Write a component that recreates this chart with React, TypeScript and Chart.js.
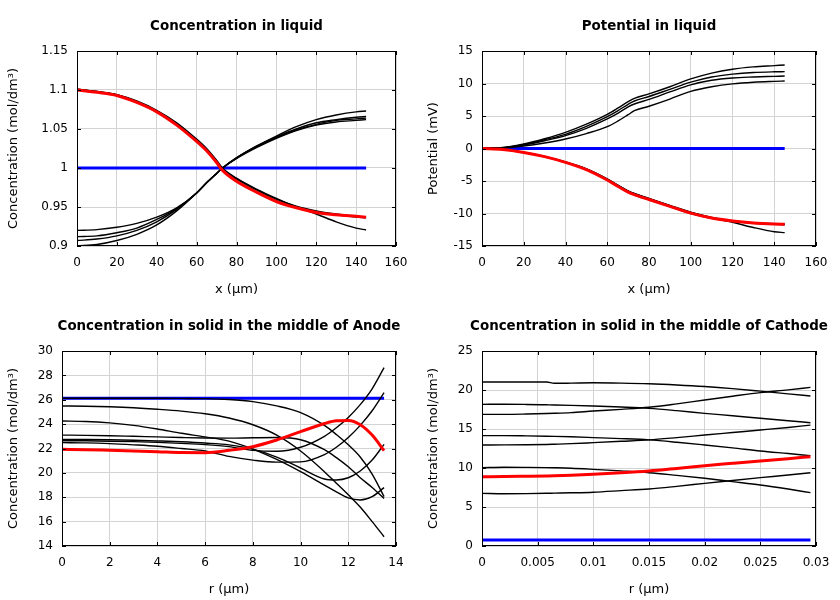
import React, { useEffect, useRef } from 'react';
import { Chart, registerables } from 'chart.js';

Chart.register(...registerables);
Chart.defaults.font.family = "'DejaVu Sans', sans-serif";
Chart.defaults.color = '#000';

// ---------- Panel 1: Concentration in liquid ----------
const liquidX = [0, 10, 20, 30, 40, 50, 60, 65, 70, 73, 80, 90, 100, 110, 120, 130, 140, 145];
const liqConcInitial = [1, 1, 1, 1, 1, 1, 1, 1, 1, 1, 1, 1, 1, 1, 1, 1, 1, 1];
const liqConcFinal = [1.1, 1.097, 1.093, 1.084, 1.072, 1.055, 1.034, 1.022, 1.007, 0.997, 0.983, 0.969, 0.957, 0.949, 0.943, 0.94, 0.938, 0.937];
const liqConcDown1 = [1.101, 1.098, 1.094, 1.086, 1.074, 1.058, 1.037, 1.025, 1.01, 1.0, 0.987, 0.973, 0.961, 0.95, 0.941, 0.931, 0.923, 0.9205];
const liqConcDown2 = [1.101, 1.098, 1.094, 1.085, 1.073, 1.057, 1.036, 1.024, 1.009, 0.999, 0.986, 0.972, 0.96, 0.951, 0.945, 0.941, 0.938, 0.937];
const liqConcDown3 = [1.1, 1.097, 1.093, 1.084, 1.072, 1.056, 1.035, 1.023, 1.008, 0.998, 0.984, 0.97, 0.958, 0.95, 0.944, 0.94, 0.937, 0.936];
const liqConcUp1 = [0.9, 0.902, 0.907, 0.915, 0.927, 0.945, 0.968, 0.981, 0.993, 1.0, 1.013, 1.028, 1.041, 1.053, 1.062, 1.068, 1.072, 1.073];
const liqConcUp2 = [0.907, 0.909, 0.913, 0.92, 0.931, 0.947, 0.968, 0.981, 0.993, 1.0, 1.013, 1.028, 1.04, 1.05, 1.058, 1.062, 1.065, 1.066];
const liqConcUp3 = [0.912, 0.913, 0.917, 0.923, 0.934, 0.948, 0.968, 0.981, 0.993, 1.0, 1.013, 1.027, 1.039, 1.049, 1.056, 1.061, 1.063, 1.064];
const liqConcUp4 = [0.92, 0.921, 0.924, 0.929, 0.937, 0.949, 0.968, 0.981, 0.993, 1.0, 1.012, 1.026, 1.038, 1.048, 1.055, 1.059, 1.061, 1.062];
const liquidXTicks = [0, 20, 40, 60, 80, 100, 120, 140, 160];
const liquidXTickLabels = ['0', '20', '40', '60', '80', '100', '120', '140', '160'];
const liqConcYTicks = [0.9, 0.95, 1, 1.05, 1.1, 1.15];
const liqConcYTickLabels = ['0.9', '0.95', '1', '1.05', '1.1', '1.15'];

// ---------- Panel 2: Potential in liquid ----------
const potInitial = [0, 0, 0, 0, 0, 0, 0, 0, 0, 0, 0, 0, 0, 0, 0, 0, 0, 0];
const potFinal = [0, -0.15, -0.6, -1.25, -2.13, -3.25, -4.85, -5.8, -6.7, -7.1, -7.85, -8.9, -9.95, -10.7, -11.15, -11.45, -11.62, -11.67];
const potUp1 = [0, 0.15, 0.69, 1.5, 2.49, 3.75, 5.26, 6.2, 7.2, 7.72, 8.4, 9.5, 10.7, 11.6, 12.2, 12.55, 12.75, 12.85];
const potUp2 = [0, 0.12, 0.59, 1.35, 2.18, 3.4, 4.9, 5.8, 6.8, 7.31, 8.0, 9.1, 10.2, 11.0, 11.45, 11.7, 11.8, 11.82];
const potUp3 = [0, 0.1, 0.54, 1.2, 1.97, 3.1, 4.54, 5.4, 6.4, 6.85, 7.55, 8.7, 9.8, 10.5, 10.85, 11.0, 11.1, 11.15];
const potUp4 = [0, 0.08, 0.38, 0.85, 1.46, 2.3, 3.35, 4.2, 5.2, 5.82, 6.5, 7.6, 8.8, 9.5, 9.95, 10.2, 10.33, 10.38];
const potDown1 = [0, -0.15, -0.6, -1.25, -2.1, -3.15, -4.7, -5.65, -6.55, -6.95, -7.7, -8.8, -9.85, -10.65, -11.35, -12.15, -12.8, -12.95];
const potDown2 = [0, -0.14, -0.58, -1.22, -2.07, -3.12, -4.68, -5.62, -6.52, -6.92, -7.68, -8.75, -9.8, -10.6, -11.1, -11.42, -11.58, -11.62];
const potDown3 = [0, -0.16, -0.62, -1.28, -2.16, -3.25, -4.85, -5.82, -6.72, -7.15, -7.9, -8.95, -10.0, -10.75, -11.2, -11.5, -11.68, -11.72];
const potYTicks = [-15, -10, -5, 0, 5, 10, 15];
const potYTickLabels = ['-15', '-10', '-5', '0', '5', '10', '15'];

// ---------- Panel 3: Concentration in solid, middle of anode ----------
const anodeR = [0, 1, 2, 3, 4, 5, 6, 7, 8, 9, 10, 11, 11.5, 12, 12.5, 13, 13.5];
const anodeInitial = [26.12, 26.12, 26.12, 26.12, 26.12, 26.12, 26.12, 26.12, 26.12, 26.12, 26.12, 26.12, 26.12, 26.12, 26.12, 26.12, 26.12];
const anodeFinal = [21.93, 21.9, 21.85, 21.8, 21.74, 21.67, 21.66, 21.85, 22.15, 22.7, 23.38, 24.05, 24.28, 24.3, 23.95, 23.1, 21.82];
const anodeA = [26.12, 26.12, 26.12, 26.12, 26.12, 26.11, 26.09, 26.02, 25.85, 25.5, 24.95, 23.9, 23.15, 22.3, 21.3, 19.9, 18.05];
const anodeB = [25.49, 25.47, 25.42, 25.34, 25.22, 25.07, 24.85, 24.5, 23.95, 23.1, 21.8, 20.1, 19.15, 18.2, 17.2, 16.0, 14.76];
const anodeC = [24.26, 24.22, 24.1, 23.9, 23.6, 23.25, 22.95, 22.6, 21.95, 21.1, 20.1, 19.0, 18.45, 17.95, 17.78, 18.05, 18.79];
const anodeD = [23.1, 23.08, 23.05, 23.0, 22.95, 22.9, 22.86, 22.85, 22.88, 22.9, 22.72, 21.9, 21.25, 20.5, 19.6, 18.8, 17.9];
const anodeE = [22.75, 22.74, 22.72, 22.68, 22.62, 22.55, 22.45, 22.3, 21.95, 21.3, 20.4, 19.5, 19.42, 19.6, 20.15, 21.05, 22.34];
const anodeF = [22.64, 22.63, 22.6, 22.56, 22.5, 22.42, 22.32, 22.15, 21.85, 21.78, 22.1, 23.0, 23.7, 24.55, 25.6, 26.9, 28.63];
const anodeG = [22.48, 22.46, 22.4, 22.3, 22.18, 22.0, 21.8, 21.35, 21.05, 20.88, 20.9, 21.5, 22.1, 22.9, 23.9, 25.1, 26.58];
const anodeXTicks = [0, 2, 4, 6, 8, 10, 12, 14];
const anodeXTickLabels = ['0', '2', '4', '6', '8', '10', '12', '14'];
const anodeYTicks = [14, 16, 18, 20, 22, 24, 26, 28, 30];
const anodeYTickLabels = ['14', '16', '18', '20', '22', '24', '26', '28', '30'];

// ---------- Panel 4: Concentration in solid, middle of cathode ----------
const cathodeR = [0, 0.002, 0.004, 0.0058, 0.0065, 0.008, 0.01, 0.0125, 0.015, 0.0175, 0.02, 0.0225, 0.025, 0.0275, 0.0295];
const cathodeInitial = [0.77, 0.77, 0.77, 0.77, 0.77, 0.77, 0.77, 0.77, 0.77, 0.77, 0.77, 0.77, 0.77, 0.77, 0.77];
const cathodeFinal = [8.89, 8.9, 8.94, 8.98, 9.0, 9.07, 9.19, 9.38, 9.62, 9.95, 10.3, 10.6, 10.9, 11.2, 11.45];
const cathode1 = [21.03, 21.03, 21.03, 21.02, 20.86, 20.88, 20.92, 20.88, 20.8, 20.65, 20.45, 20.18, 19.85, 19.5, 19.23];
const cathode2 = [18.16, 18.18, 18.15, 18.1, 18.08, 18.03, 17.95, 17.82, 17.65, 17.35, 17.0, 16.7, 16.37, 16.05, 15.81];
const cathode3 = [16.88, 16.88, 16.92, 16.98, 17.01, 17.1, 17.3, 17.52, 17.78, 18.22, 18.72, 19.2, 19.66, 20.02, 20.34];
const cathode4 = [14.15, 14.15, 14.12, 14.08, 14.06, 14.0, 13.9, 13.77, 13.6, 13.3, 12.95, 12.58, 12.18, 11.85, 11.58];
const cathode5 = [12.95, 12.96, 12.98, 13.02, 13.05, 13.12, 13.25, 13.42, 13.6, 13.9, 14.23, 14.55, 14.87, 15.2, 15.5];
const cathode6 = [10.04, 10.1, 10.08, 10.05, 10.03, 9.97, 9.83, 9.63, 9.4, 9.05, 8.68, 8.25, 7.82, 7.3, 6.84];
const cathode7 = [6.75, 6.7, 6.72, 6.76, 6.78, 6.82, 6.9, 7.1, 7.31, 7.65, 8.03, 8.4, 8.76, 9.1, 9.4];
const cathodeXTicks = [0, 0.005, 0.01, 0.015, 0.02, 0.025, 0.03];
const cathodeXTickLabels = ['0', '0.005', '0.01', '0.015', '0.02', '0.025', '0.03'];
const cathodeYTicks = [0, 5, 10, 15, 20, 25];
const cathodeYTickLabels = ['0', '5', '10', '15', '20', '25'];

const BLACK = '#000000';
const RED = '#ff0000';
const BLUE = '#0000ff';
const FONT = "'DejaVu Sans', sans-serif";

type Line = { values: number[]; kind: 'black' | 'red' | 'blue' };

type PanelProps = {
  left: number;
  top: number;
  title: string;
  xTitle: string;
  yTitle: string;
  xs: number[];
  lines: Line[];
  xMin: number;
  xMax: number;
  yMin: number;
  yMax: number;
  xTicks: number[];
  xTickLabels: string[];
  yTicks: number[];
  yTickLabels: string[];
  yAxisWidth: number;
};

const framePlugin = {
  id: 'frame',
  afterDraw(chart: any) {
    const { ctx, chartArea, scales } = chart;
    const { left, top, right, bottom } = chartArea;
    const len = 4;
    ctx.save();
    ctx.strokeStyle = '#000';
    ctx.lineWidth = 1;
    ctx.beginPath();
    scales.x.ticks.forEach((t: any) => {
      const px = Math.round(scales.x.getPixelForValue(t.value)) + 0.5;
      ctx.moveTo(px, bottom);
      ctx.lineTo(px, bottom - len);
      ctx.moveTo(px, top);
      ctx.lineTo(px, top + len);
    });
    scales.y.ticks.forEach((t: any) => {
      const py = Math.round(scales.y.getPixelForValue(t.value)) + 0.5;
      ctx.moveTo(left, py);
      ctx.lineTo(left + len, py);
      ctx.moveTo(right, py);
      ctx.lineTo(right - len, py);
    });
    ctx.stroke();
    ctx.strokeRect(Math.round(left) + 0.5, Math.round(top) + 0.5, Math.round(right - left) - 1, Math.round(bottom - top) - 1);
    ctx.restore();
  },
};

// Title centred over the plot area (not squeezed to the plot width)
const makeTitlePlugin = (text: string) => ({
  id: 'panelTitle',
  afterDraw(chart: any) {
    const { ctx, chartArea } = chart;
    ctx.save();
    ctx.fillStyle = '#000';
    ctx.font = `bold 13.4px ${FONT}`;
    ctx.textAlign = 'center';
    ctx.textBaseline = 'middle';
    ctx.fillText(text, (chartArea.left + chartArea.right) / 2, chartArea.top - 24);
    ctx.restore();
  },
});

function Panel(p: PanelProps) {
  const ref = useRef<HTMLCanvasElement | null>(null);
  useEffect(() => {
    if (!ref.current) return;
    const datasets = p.lines.map((ln) => ({
      data: p.xs.map((x, i) => ({ x, y: ln.values[i] })),
      borderColor: ln.kind === 'black' ? BLACK : ln.kind === 'red' ? RED : BLUE,
      borderWidth: ln.kind === 'black' ? 1.4 : 3,
      pointRadius: 0,
      fill: false,
      cubicInterpolationMode: 'monotone' as const,
      order: ln.kind === 'red' ? 0 : ln.kind === 'black' ? 1 : 2,
    }));
    const chart = new Chart(ref.current, {
      type: 'line',
      data: { datasets },
      plugins: [framePlugin, makeTitlePlugin(p.title)],
      options: {
        responsive: false,
        animation: false,
        events: [],
        layout: { padding: { left: 0, right: 24, top: 51, bottom: 0 } },
        plugins: {
          legend: { display: false },
          tooltip: { enabled: false },
          title: { display: false },
        },
        scales: {
          x: {
            type: 'linear',
            min: p.xMin,
            max: p.xMax,
            afterBuildTicks: (s: any) => {
              s.ticks = p.xTicks.map((v) => ({ value: v }));
            },
            afterFit: (s: any) => {
              s.height = 54;
            },
            ticks: {
              autoSkip: false,
              maxRotation: 0,
              padding: 10,
              color: '#000',
              font: { size: 12 },
              callback: (_v: any, i: number) => p.xTickLabels[i],
            },
            grid: { color: '#d3d3d3', drawTicks: false },
            border: { display: false },
            title: {
              display: true,
              text: p.xTitle,
              color: '#000',
              font: { size: 13 },
              padding: { top: 0, bottom: 3 },
            },
          },
          y: {
            type: 'linear',
            min: p.yMin,
            max: p.yMax,
            afterBuildTicks: (s: any) => {
              s.ticks = p.yTicks.map((v) => ({ value: v }));
            },
            afterFit: (s: any) => {
              s.width = p.yAxisWidth;
            },
            ticks: {
              autoSkip: false,
              padding: 9,
              color: '#000',
              font: { size: 12 },
              callback: (_v: any, i: number) => p.yTickLabels[i],
            },
            grid: { color: '#d3d3d3', drawTicks: false },
            border: { display: false },
            title: {
              display: true,
              text: p.yTitle,
              color: '#000',
              font: { size: 13 },
              padding: { top: 5.7, bottom: 0 },
            },
          },
        },
      } as any,
    });
    return () => chart.destroy();
  }, []);
  return (
    <canvas
      ref={ref}
      width={420}
      height={300}
      style={{ position: 'absolute', left: p.left, top: p.top, width: 420, height: 300 }}
    />
  );
}

const b = (values: number[]): Line => ({ values, kind: 'black' });

export default function App() {
  return (
    <div style={{ position: 'absolute', left: 0, top: 0, width: 840, height: 600, background: '#fff' }}>
      <Panel
        left={0}
        top={0}
        title="Concentration in liquid"
        xTitle="x (μm)"
        yTitle="Concentration (mol/dm³)"
        xs={liquidX}
        lines={[
          { values: liqConcInitial, kind: 'blue' },
          b(liqConcDown1), b(liqConcDown2), b(liqConcDown3),
          b(liqConcUp1), b(liqConcUp2), b(liqConcUp3), b(liqConcUp4),
          { values: liqConcFinal, kind: 'red' },
        ]}
        xMin={0}
        xMax={160}
        yMin={0.9}
        yMax={1.15}
        xTicks={liquidXTicks}
        xTickLabels={liquidXTickLabels}
        yTicks={liqConcYTicks}
        yTickLabels={liqConcYTickLabels}
        yAxisWidth={77}
      />
      <Panel
        left={420}
        top={0}
        title="Potential in liquid"
        xTitle="x (μm)"
        yTitle="Potential (mV)"
        xs={liquidX}
        lines={[
          { values: potInitial, kind: 'blue' },
          b(potUp1), b(potUp2), b(potUp3), b(potUp4),
          b(potDown1), b(potDown2), b(potDown3),
          { values: potFinal, kind: 'red' },
        ]}
        xMin={0}
        xMax={160}
        yMin={-15}
        yMax={15}
        xTicks={liquidXTicks}
        xTickLabels={liquidXTickLabels}
        yTicks={potYTicks}
        yTickLabels={potYTickLabels}
        yAxisWidth={62}
      />
      <Panel
        left={0}
        top={300}
        title="Concentration in solid in the middle of Anode"
        xTitle="r (μm)"
        yTitle="Concentration (mol/dm³)"
        xs={anodeR}
        lines={[
          { values: anodeInitial, kind: 'blue' },
          b(anodeA), b(anodeB), b(anodeC), b(anodeD), b(anodeE), b(anodeF), b(anodeG),
          { values: anodeFinal, kind: 'red' },
        ]}
        xMin={0}
        xMax={14}
        yMin={14}
        yMax={30}
        xTicks={anodeXTicks}
        xTickLabels={anodeXTickLabels}
        yTicks={anodeYTicks}
        yTickLabels={anodeYTickLabels}
        yAxisWidth={62}
      />
      <Panel
        left={420}
        top={300}
        title="Concentration in solid in the middle of Cathode"
        xTitle="r (μm)"
        yTitle="Concentration (mol/dm³)"
        xs={cathodeR}
        lines={[
          { values: cathodeInitial, kind: 'blue' },
          b(cathode1), b(cathode2), b(cathode3), b(cathode4), b(cathode5), b(cathode6), b(cathode7),
          { values: cathodeFinal, kind: 'red' },
        ]}
        xMin={0}
        xMax={0.03}
        yMin={0}
        yMax={25}
        xTicks={cathodeXTicks}
        xTickLabels={cathodeXTickLabels}
        yTicks={cathodeYTicks}
        yTickLabels={cathodeYTickLabels}
        yAxisWidth={62}
      />
    </div>
  );
}
